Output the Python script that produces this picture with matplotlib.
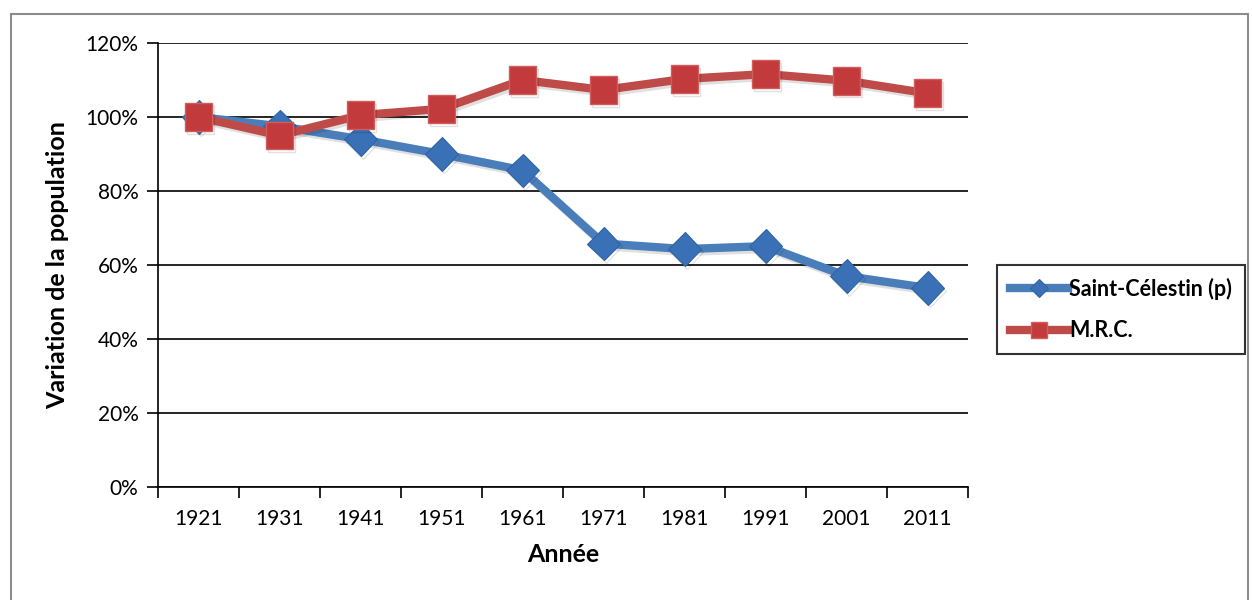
import matplotlib
matplotlib.use("Agg")
import matplotlib.pyplot as plt
import matplotlib.patches as mpatches
import matplotlib.patheffects as pe
from matplotlib.ticker import FixedLocator, PercentFormatter

matplotlib.rcParams['font.family'] = ['Lato', 'DejaVu Sans']

# -- data --------------------------------------------------------
annees = ["1921", "1931", "1941", "1951", "1961", "1971", "1981", "1991", "2001", "2011"]
saint_celestin = [100, 97.5, 94, 90, 85.6, 65.8, 64.3, 65.1, 57, 53.8]
mrc = [100, 95, 100.5, 102.2, 110, 107.3, 110.3, 111.6, 109.8, 106.4]

BLUE_LINE = "#4A7EBB"
BLUE_MK = "#3A70B5"
RED_LINE = "#BE4B48"
RED_MK = "#C23A3B"

fig = plt.figure(figsize=(12.52, 6), dpi=100, facecolor="white")

# outer frame
fig.patches.append(mpatches.Rectangle((11/1252, -0.02), 1237/1252, (600-14)/600 + 0.02,
                                      transform=fig.transFigure, fill=False,
                                      edgecolor="#8c8c8c", linewidth=1.5))

ax = fig.add_axes([158/1252, 113/600, 810/1252, 444/600])
x = list(range(len(annees)))

shadow = [pe.SimpleLineShadow(offset=(1.5, -2), alpha=0.12), pe.Normal()]
ax.plot(x, saint_celestin, color=BLUE_LINE, linewidth=6, marker="D", markersize=17,
        markerfacecolor=BLUE_MK, markeredgecolor="#2F63A5", markeredgewidth=0.8,
        label="Saint-Célestin (p)", zorder=3, path_effects=shadow)
ax.plot(x, mrc, color=RED_LINE, linewidth=6, marker="s", markersize=20,
        markerfacecolor=RED_MK, markeredgecolor="#D25C5C", markeredgewidth=1,
        label="M.R.C.", zorder=4, path_effects=shadow)

ax.set_ylim(0, 120)
ax.set_xlim(-0.5, len(annees) - 0.5)
ax.set_yticks(range(0, 121, 20))
ax.yaxis.set_major_formatter(PercentFormatter(decimals=0))
ax.grid(axis="y", color="black", linewidth=1.2)
ax.set_axisbelow(True)

ax.set_xticks(x)
ax.set_xticklabels(annees)
ax.xaxis.set_minor_locator(FixedLocator([i - 0.5 for i in range(len(annees) + 1)]))
ax.tick_params(axis="x", which="major", length=0, pad=16, labelsize=15)
ax.tick_params(axis="x", which="minor", length=8, width=1.2, direction="out")
ax.tick_params(axis="y", length=8, width=1.2, direction="out", pad=6, labelsize=15)

for s in ["top", "right"]:
    ax.spines[s].set_visible(False)
for s in ["left", "bottom"]:
    ax.spines[s].set_color("black")
    ax.spines[s].set_linewidth(1.2)

ax.set_xlabel("Année", fontsize=18, fontweight="bold", labelpad=10)
ax.set_ylabel("Variation de la population", fontsize=18, fontweight="bold", labelpad=12)

leg = fig.legend(loc="upper left", bbox_to_anchor=(997/1252, 1 - 265/600),
                 prop={"weight": "bold", "size": 15.5},
                 frameon=True, fancybox=False, edgecolor="black",
                 handlelength=2.7, handletextpad=0.05, borderpad=0.6,
                 labelspacing=0.95, borderaxespad=0, markerscale=0.55)
leg.get_frame().set_linewidth(1.5)
for h in leg.legend_handles:
    h.set_path_effects([])

fig.savefig("out.png", dpi=100, facecolor="white")
